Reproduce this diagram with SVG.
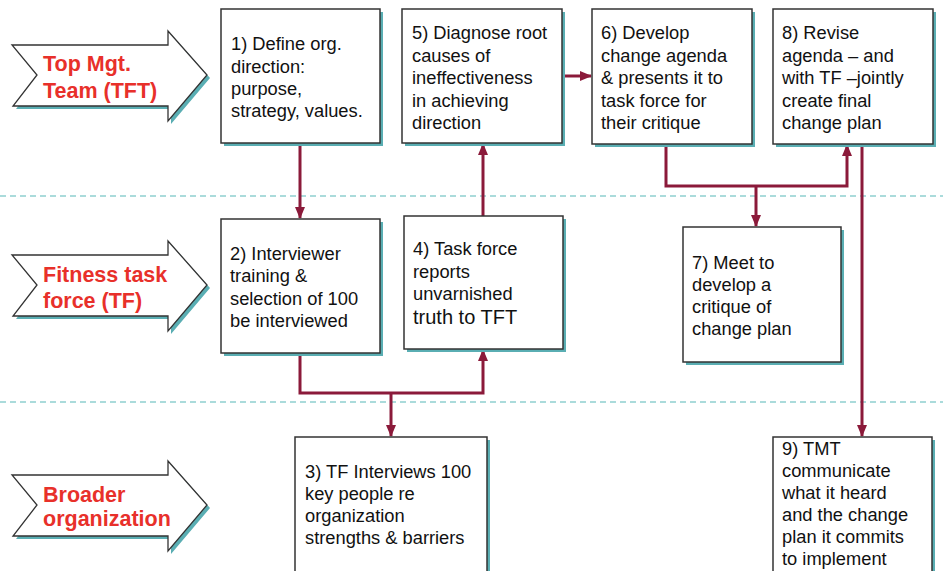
<svg xmlns="http://www.w3.org/2000/svg" width="943" height="571" viewBox="0 0 943 571">
<style>
.bg{fill:#ffffff}
.lane{stroke:#8fd0d0;stroke-width:1.5;stroke-dasharray:6 4;fill:none}
.arrshadow{fill:#5aaeb3}
.arr{fill:#ffffff;stroke:#333333;stroke-width:1.3}
.lbl{font-family:"Liberation Sans",Arial,sans-serif;font-weight:bold;font-size:21.5px;fill:#e8302a}
.shadow{fill:#5aaeb3}
.box{fill:#ffffff;stroke:#333333;stroke-width:1.5}
.t{font-family:"Liberation Sans",Arial,sans-serif;font-size:18.3px;fill:#111111}
.con{fill:none;stroke:#8b1a3a;stroke-width:3}
</style>
<defs>
<marker id="ah" markerUnits="userSpaceOnUse" markerWidth="12" markerHeight="12" viewBox="0 0 12 12" refX="11" refY="6" orient="auto">
<path d="M0,1 L12,6 L0,11 Z" fill="#8b1a3a"/>
</marker>
</defs>
<rect class="bg" x="0" y="0" width="943" height="571"/>
<line class="lane" x1="0" y1="196" x2="943" y2="196"/>
<line class="lane" x1="0" y1="402" x2="943" y2="402"/>

<g id="lane-tft">
<polygon class="arrshadow" points="15,48 171,48 171,34 210,78 171,124 171,109 16,109 40,78"/>
<polygon class="arr" points="12,45 168,45 168,31 207,75 168,121 168,106 13,106 37,75"/>
<text class="lbl" x="43" y="71">Top Mgt.</text>
<text class="lbl" x="43" y="98">Team (TFT)</text>
</g>
<g id="lane-tf">
<polygon class="arrshadow" points="15,258 171,258 171,244 210,288 171,334 171,319 16,319 40,288"/>
<polygon class="arr" points="12,255 168,255 168,241 207,285 168,331 168,316 13,316 37,285"/>
<text class="lbl" x="43" y="282">Fitness task</text>
<text class="lbl" x="43" y="308">force (TF)</text>
</g>
<g id="lane-org">
<polygon class="arrshadow" points="15,478 171,478 171,464 210,508 171,554 171,539 16,539 40,508"/>
<polygon class="arr" points="12,475 168,475 168,461 207,505 168,551 168,536 13,536 37,505"/>
<text class="lbl" x="43" y="502">Broader</text>
<text class="lbl" x="43" y="526">organization</text>
</g>

<g id="connectors">
<path class="con" d="M300,143 V218" marker-end="url(#ah)"/>
<path class="con" d="M300,353 V393 H483 V350" marker-end="url(#ah)"/>
<path class="con" d="M391,393 V436" marker-end="url(#ah)"/>
<path class="con" d="M483,216 V144" marker-end="url(#ah)"/>
<path class="con" d="M562,76 H591" marker-end="url(#ah)"/>
<path class="con" d="M666,144 V186 H847 V145" marker-end="url(#ah)"/>
<path class="con" d="M756,186 V226" marker-end="url(#ah)"/>
<path class="con" d="M862,144 V436" marker-end="url(#ah)"/>
</g>

<g id="n1">
<rect class="shadow" x="224" y="12" width="159" height="134"/>
<rect class="box" x="221" y="9" width="159" height="134"/>
<text class="t" x="231" y="50">1) Define org.</text>
<text class="t" x="231" y="73">direction:</text>
<text class="t" x="231" y="95">purpose,</text>
<text class="t" x="231" y="117">strategy, values.</text>
</g>
<g id="n5">
<rect class="shadow" x="405" y="12" width="160" height="134"/>
<rect class="box" x="402" y="9" width="160" height="134"/>
<text class="t" x="412" y="39">5) Diagnose root</text>
<text class="t" x="412" y="62">causes of</text>
<text class="t" x="412" y="84">ineffectiveness</text>
<text class="t" x="412" y="107">in achieving</text>
<text class="t" x="412" y="129">direction</text>
</g>
<g id="n6">
<rect class="shadow" x="595" y="12" width="160" height="135"/>
<rect class="box" x="592" y="9" width="160" height="135"/>
<text class="t" x="601" y="39">6) Develop</text>
<text class="t" x="601" y="62">change agenda</text>
<text class="t" x="601" y="84">&amp; presents it to</text>
<text class="t" x="601" y="107">task force for</text>
<text class="t" x="601" y="129">their critique</text>
</g>
<g id="n8">
<rect class="shadow" x="776" y="12" width="160" height="135"/>
<rect class="box" x="773" y="9" width="160" height="135"/>
<text class="t" x="782" y="39">8) Revise</text>
<text class="t" x="782" y="62">agenda – and</text>
<text class="t" x="782" y="84">with TF –jointly</text>
<text class="t" x="782" y="107">create final</text>
<text class="t" x="782" y="129">change plan</text>
</g>
<g id="n2">
<rect class="shadow" x="224" y="222" width="159" height="134"/>
<rect class="box" x="221" y="219" width="159" height="134"/>
<text class="t" x="230" y="260">2) Interviewer</text>
<text class="t" x="230" y="282">training &amp;</text>
<text class="t" x="230" y="305">selection of 100</text>
<text class="t" x="230" y="327">be interviewed</text>
</g>
<g id="n4">
<rect class="shadow" x="407" y="219" width="159" height="133"/>
<rect class="box" x="404" y="216" width="159" height="133"/>
<text class="t" x="413" y="255">4) Task force</text>
<text class="t" x="413" y="278">reports</text>
<text class="t" x="413" y="300">unvarnished</text>
<text class="t" x="413" y="324" style="font-size:20px">truth to TFT</text>
</g>
<g id="n7">
<rect class="shadow" x="686" y="230" width="158" height="135"/>
<rect class="box" x="683" y="227" width="158" height="135"/>
<text class="t" x="692" y="269">7) Meet to</text>
<text class="t" x="692" y="291">develop a</text>
<text class="t" x="692" y="313">critique of</text>
<text class="t" x="692" y="335">change plan</text>
</g>
<g id="n3">
<rect class="shadow" x="298" y="440" width="192" height="140"/>
<rect class="box" x="295" y="437" width="192" height="140"/>
<text class="t" x="305" y="478">3) TF Interviews 100</text>
<text class="t" x="305" y="500">key people re</text>
<text class="t" x="305" y="522">organization</text>
<text class="t" x="305" y="544">strengths &amp; barriers</text>
</g>
<g id="n9">
<rect class="shadow" x="776" y="440" width="159" height="140"/>
<rect class="box" x="773" y="437" width="159" height="140"/>
<text class="t" x="782" y="455">9) TMT</text>
<text class="t" x="782" y="477">communicate</text>
<text class="t" x="782" y="499">what it heard</text>
<text class="t" x="782" y="521">and  the change</text>
<text class="t" x="782" y="543">plan it commits</text>
<text class="t" x="782" y="565">to implement</text>
</g>
</svg>
